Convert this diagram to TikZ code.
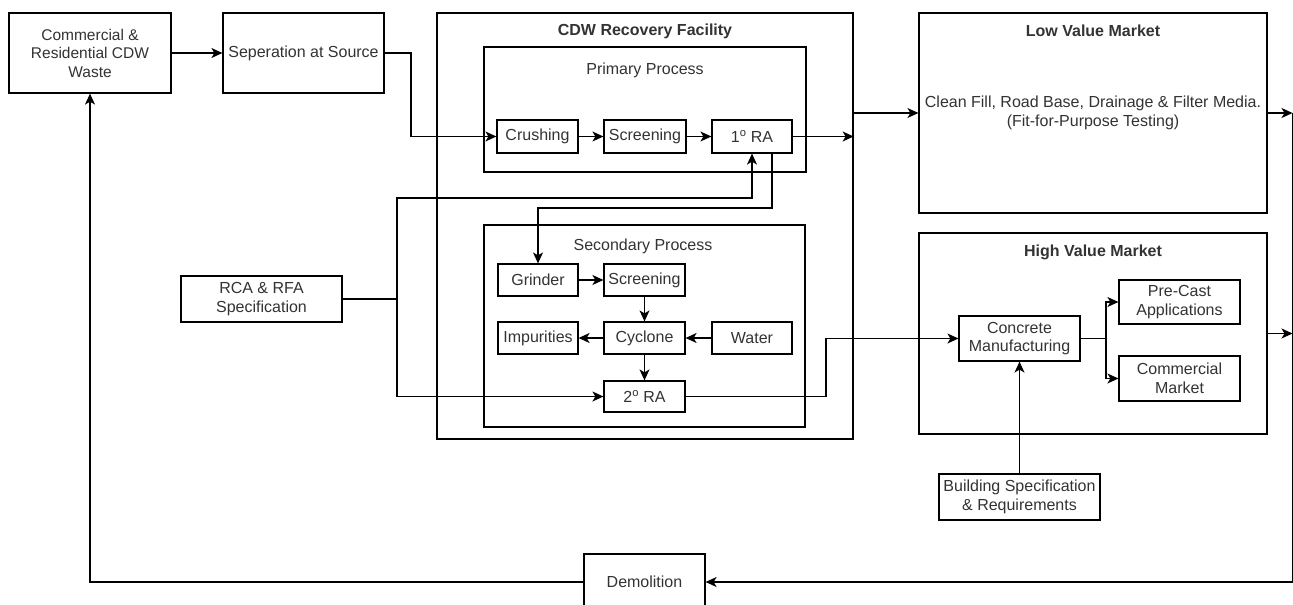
\documentclass[tikz,border=0pt]{standalone}
\usepackage{fontspec}
\setmainfont{Liberation Sans}
\usetikzlibrary{arrows.meta}
\definecolor{txt}{RGB}{51,51,51}
\tikzset{
  box/.style={draw=black, line width=1.2pt, fill=white, inner sep=0pt, align=center, text=txt,
     font=\fontsize{16}{18.5}\selectfont},
  lbl/.style={inner sep=1pt, align=center, text=txt, font=\fontsize{16}{18.5}\selectfont},
  blbl/.style={lbl, font=\fontsize{16}{18.5}\selectfont\bfseries},
  conn/.style={draw=black, line width=1.3pt},
  arr/.style={conn, -{Stealth[length=11pt,width=10pt,inset=3pt]}},
}
\begin{document}
\begin{tikzpicture}[x=1pt,y=-1pt]
\useasboundingbox (0,0) rectangle (1293,605);
\clip (0,0) rectangle (1293,605);
% containers
\node[box, minimum width=416, minimum height=426] (cdw) at (645,226) {};
\node[blbl] (cdwt) at (645,31) {CDW Recovery Facility};
\node[box, minimum width=322, minimum height=125] (prim) at (645,109.5) {};
\node[lbl] (primt) at (645,70) {Primary Process};
\node[box, minimum width=321, minimum height=202] (sec) at (644.5,326) {};
\node[lbl] (sect) at (643,246) {Secondary Process};
\node[box, minimum width=348, minimum height=200] (low) at (1093,113) {};
\node[blbl] (lowt) at (1093,31) {Low Value Market};
\node[lbl] (lowb) at (1093,113) {Clean Fill, Road Base, Drainage \& Filter Media.\\(Fit-for-Purpose Testing)};
\node[box, minimum width=348, minimum height=201] (high) at (1093,333.5) {};
\node[blbl] (hight) at (1093,252) {High Value Market};
% left nodes
\node[box, minimum width=162, minimum height=80, font=\fontsize{15.5}{18.5}\selectfont] (waste) at (90,53) {Commercial \&\\Residential CDW\\Waste};
\node[box, minimum width=161, minimum height=80, font=\fontsize{16}{18.5}\selectfont] (sep) at (303.5,53) {Seperation at Source};
\node[box, minimum width=161, minimum height=46] (rca) at (261.5,299) {RCA \& RFA\\Specification};
% primary process
\node[box, minimum width=81, minimum height=33] (crush) at (537.5,136.5) {Crushing};
\node[box, minimum width=82, minimum height=33] (scr1) at (645,136.5) {Screening};
\node[box, minimum width=80, minimum height=33] (ra1) at (752,136.5) {1\textsuperscript{o} RA};
% secondary process
\node[box, minimum width=80, minimum height=32] (grind) at (538,280) {Grinder};
\node[box, minimum width=81, minimum height=32] (scr2) at (644.5,280) {Screening};
\node[box, minimum width=80, minimum height=32] (imp) at (538,338) {Impurities};
\node[box, minimum width=81, minimum height=32] (cyc) at (644.5,338) {Cyclone};
\node[box, minimum width=80, minimum height=32] (water) at (752,338) {Water};
\node[box, minimum width=81, minimum height=31] (ra2) at (644.5,396.5) {2\textsuperscript{o} RA};
% high value market
\node[box, minimum width=121, minimum height=45] (conc) at (1019.5,338.5) {Concrete\\Manufacturing};
\node[box, minimum width=121, minimum height=44] (pre) at (1179.5,302) {Pre-Cast\\Applications};
\node[box, minimum width=121, minimum height=45] (comm) at (1179.5,378.5) {Commercial\\Market};
\node[box, minimum width=161, minimum height=46] (bspec) at (1019.5,497) {Building Specification\\\& Requirements};
\node[box, minimum width=121, minimum height=56] (demo) at (644.5,582) {Demolition};
% helper coordinates
\coordinate (s1) at (411,53);
\coordinate (j) at (397,299);
\coordinate (j1) at (397,198);
\coordinate (k0) at (772,153);
\coordinate (k1) at (772,208);
\coordinate (m1) at (826,396.5);
\coordinate (c1) at (1106,338.5);
\coordinate (rt) at (1292.5,113);
\coordinate (rh) at (1292.5,333.5);
\coordinate (rb) at (1292.5,582);
% connectors
\draw[arr] (waste) -- (sep);
\draw[arr] (sep.east) -- (s1) |- (crush.west);
\draw[arr] (crush) -- (scr1);
\draw[arr] (scr1) -- (ra1);
\draw[arr] (ra1.east) -- (cdw.east |- ra1.east);
\draw[arr] (cdw.east |- low.west) -- (low.west);
\draw[arr] (low.east) -- (rt);
\draw[arr] (high.east) -- (rh);
\draw[arr] (rt) -- (rb) -- (demo.east);
\draw[arr] (demo.west) -| (waste.south);
\draw[conn] (rca.east) -- (j);
\draw[arr] (j) -- (j1) -| (ra1.south);
\draw[arr] (j) |- (ra2.west);
\draw[arr] (k0) -- (k1) -| (grind.north);
\draw[arr] (grind) -- (scr2);
\draw[arr] (scr2) -- (cyc);
\draw[arr] (water) -- (cyc);
\draw[arr] (cyc) -- (imp);
\draw[arr] (cyc) -- (ra2);
\draw[arr] (ra2.east) -- (m1) |- (conc.west);
\draw[conn] (conc.east) -- (c1);
\draw[arr] (c1) |- (pre.west);
\draw[arr] (c1) |- (comm.west);
\draw[arr] (bspec) -- (conc);
\end{tikzpicture}
\end{document}
